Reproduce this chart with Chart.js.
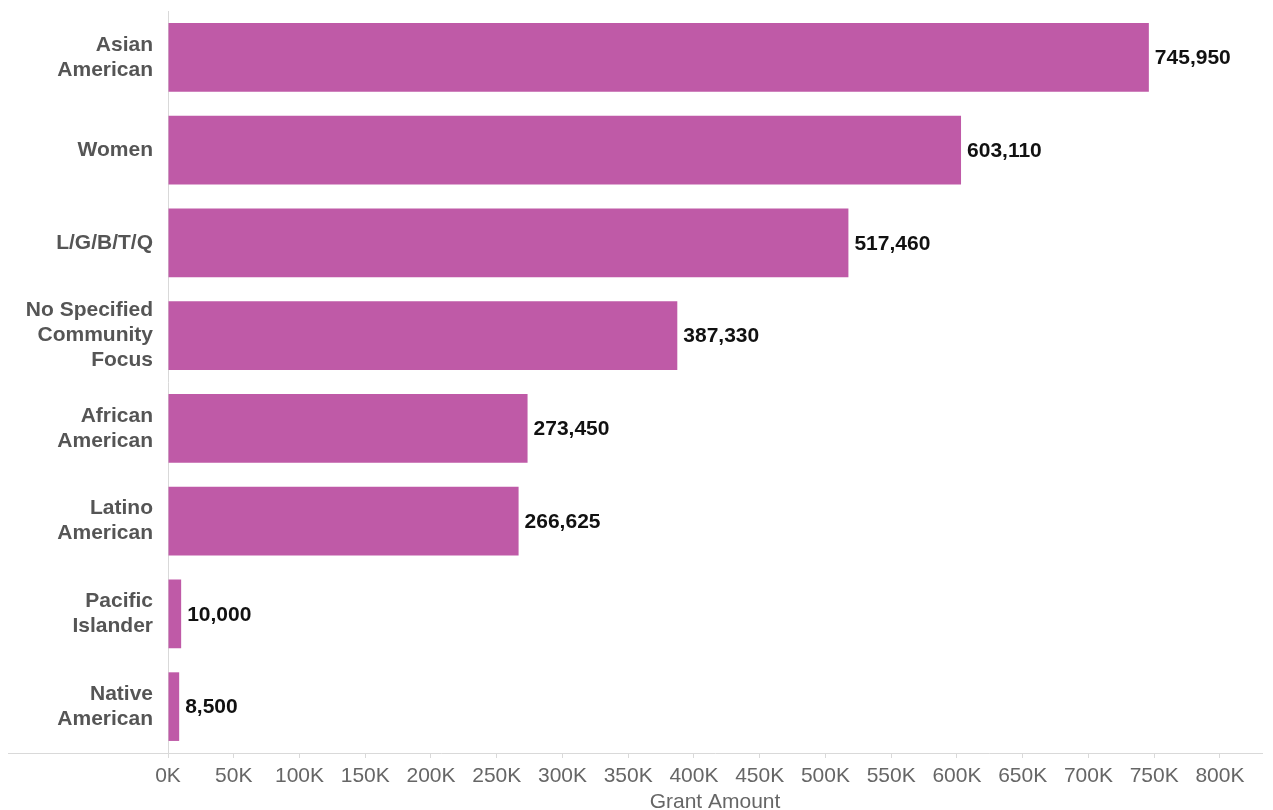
<!DOCTYPE html>
<html>
<head>
<meta charset="utf-8">
<script src="https://cdn.jsdelivr.net/npm/chart.js@4"></script>
<style>
  html, body { margin: 0; padding: 0; background: #fff; }
  #wrap { width: 1273px; height: 810px; }
</style>
</head>
<body>
<div id="wrap"><canvas id="grantChart" width="1273" height="810"></canvas></div>
<script>
// data
const categories = [
    ['Asian', 'American'],
    ['Women'],
    ['L/G/B/T/Q'],
    ['No Specified', 'Community', 'Focus'],
    ['African', 'American'],
    ['Latino', 'American'],
    ['Pacific', 'Islander'],
    ['Native', 'American']
];
const grantAmounts = [745950, 603110, 517460, 387330, 273450, 266625, 10000, 8500];
const tickValues = [0, 50000, 100000, 150000, 200000, 250000, 300000, 350000, 400000,
                    450000, 500000, 550000, 600000, 650000, 700000, 750000, 800000];
const axisMax = 832000;

const barColor = '#bf5aa7';
const fontFamily = '"Liberation Sans", Arial, sans-serif';

// draws the value next to the end of each bar
const valueLabels = {
    id: 'valueLabels',
    afterDatasetsDraw(chart) {
        const ctx = chart.ctx;
        const meta = chart.getDatasetMeta(0);
        ctx.save();
        ctx.font = 'bold 21px ' + fontFamily;
        ctx.fillStyle = '#111';
        ctx.textAlign = 'left';
        ctx.textBaseline = 'middle';
        meta.data.forEach(function(bar, i) {
            ctx.fillText(grantAmounts[i].toLocaleString('en-US'), bar.x + 6, bar.y + 1);
        });
        ctx.restore();
    }
};

// the bottom rule runs under the labels too
const baseRule = {
    id: 'baseRule',
    afterDraw(chart) {
        const ctx = chart.ctx;
        const y = Math.round(chart.chartArea.bottom) + 0.5;
        ctx.save();
        ctx.strokeStyle = '#d9d9d9';
        ctx.lineWidth = 1;
        ctx.beginPath();
        ctx.moveTo(8, y);
        ctx.lineTo(chart.chartArea.left, y);
        ctx.stroke();
        ctx.restore();
    }
};

document.addEventListener('DOMContentLoaded', function() {
    const ctx = document.getElementById('grantChart').getContext('2d');
    new Chart(ctx, {
        type: 'bar',
        data: {
            labels: categories,
            datasets: [{
                label: 'Grant Amount',
                data: grantAmounts,
                backgroundColor: barColor,
                borderWidth: 0,
                categoryPercentage: 1,
                barPercentage: 0.74
            }]
        },
        options: {
            indexAxis: 'y',
            responsive: false,
            animation: false,
            layout: { padding: { top: 11, right: 11, left: 0, bottom: 0 } },
            plugins: {
                legend: { display: false },
                tooltip: { enabled: false }
            },
            scales: {
                x: {
                    min: 0,
                    max: axisMax,
                    afterBuildTicks: function(scale) {
                        scale.ticks = tickValues.map(function(v) { return { value: v }; });
                    },
                    afterFit: function(scale) { scale.height = 57; },
                    grid: {
                        drawOnChartArea: false,
                        drawTicks: true,
                        tickLength: 5,
                        color: '#d9d9d9'
                    },
                    border: { color: '#d9d9d9' },
                    ticks: {
                        maxRotation: 0,
                        autoSkip: false,
                        padding: 6,
                        color: '#666',
                        font: { family: fontFamily, size: 21 },
                        callback: function(v) { return (v / 1000) + 'K'; }
                    },
                    title: {
                        display: true,
                        text: 'Grant Amount',
                        color: '#666',
                        font: { family: fontFamily, size: 21 },
                        padding: { top: 2, bottom: -5 }
                    }
                },
                y: {
                    afterFit: function(scale) {
                        scale.width = 168;
                        scale.paddingTop = 0;
                        scale.paddingBottom = 0;
                    },
                    grid: { display: false },
                    border: { color: '#d9d9d9' },
                    ticks: {
                        padding: 7,
                        color: '#555',
                        font: { family: fontFamily, size: 21, weight: 'bold', lineHeight: 1.19 }
                    }
                }
            }
        },
        plugins: [valueLabels, baseRule]
    });
});
</script>
</body>
</html>
